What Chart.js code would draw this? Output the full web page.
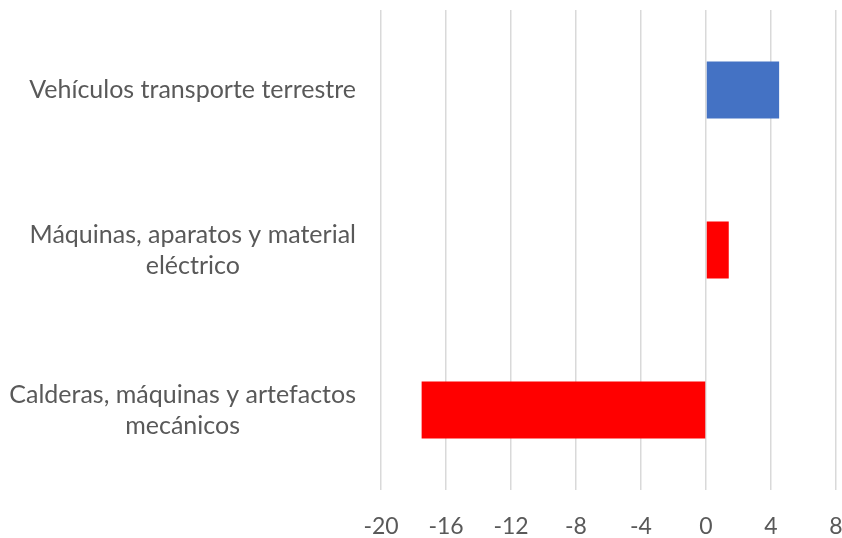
<!DOCTYPE html>
<html>
<head>
<meta charset="utf-8">
<script src="https://cdn.jsdelivr.net/npm/chart.js@4/dist/chart.umd.min.js"></script>
<style>
html,body{margin:0;padding:0;background:#fff;}
#wrap{width:842px;height:538px;}
</style>
</head>
<body>
<div id="wrap"><canvas id="c" width="842" height="538"></canvas></div>
<script>
const categories = [
  ["Vehículos transporte terrestre"],
  ["Máquinas, aparatos y material", "eléctrico"],
  ["Calderas, máquinas y artefactos", "mecánicos"]
];
const values = [4.5, 1.4, -17.5];
const barColors = ["#4472C4", "#FF0000", "#FF0000"];
const xMin = -20, xMax = 8, xStep = 4;

const FONT = "Lato, 'Open Sans', sans-serif";
const TEXT = "#595959";
const FS_CAT = 25;
const FS_TICK = 23;

const labelPlugin = {
  id: 'catLabels',
  afterDraw(chart) {
    const ctx = chart.ctx;
    const y = chart.scales.y;
    const right = chart.chartArea.left - 25;
    ctx.save();
    ctx.font = FS_CAT + "px " + FONT;
    ctx.fillStyle = TEXT;
    ctx.textBaseline = 'middle';
    ctx.textAlign = 'center';
    const lh = 31;
    categories.forEach((lines, i) => {
      const cy = y.getPixelForTick(i);
      const w = Math.max(...lines.map(l => ctx.measureText(l).width));
      const cx = right - w / 2;
      const y0 = cy - (lines.length - 1) * lh / 2;
      lines.forEach((l, j) => ctx.fillText(l, cx, y0 + j * lh));
    });
    ctx.restore();
  }
};

new Chart(document.getElementById('c'), {
  type: 'bar',
  data: {
    labels: categories,
    datasets: [{
      data: values,
      backgroundColor: barColors,
      borderWidth: 0,
      categoryPercentage: 1,
      barPercentage: 0.357
    }]
  },
  options: {
    indexAxis: 'y',
    responsive: false,
    animation: false,
    devicePixelRatio: 1,
    layout: { padding: { top: 10, right: 6, left: 0, bottom: 0 } },
    plugins: { legend: { display: false }, tooltip: { enabled: false } },
    scales: {
      x: {
        min: xMin, max: xMax,
        ticks: { stepSize: xStep, color: TEXT, font: { family: FONT, size: FS_TICK }, padding: 23 },
        grid: { color: '#d9d9d9', lineWidth: 1.5, drawTicks: false },
        border: { display: false },
        afterFit(scale) { scale.height = 48; scale.paddingLeft = 0; scale.paddingRight = 0; }
      },
      y: {
        ticks: { display: false },
        grid: { display: false },
        border: { display: false },
        afterFit(scale) { scale.width = 381; }
      }
    }
  },
  plugins: [labelPlugin]
});
</script>
</body>
</html>
